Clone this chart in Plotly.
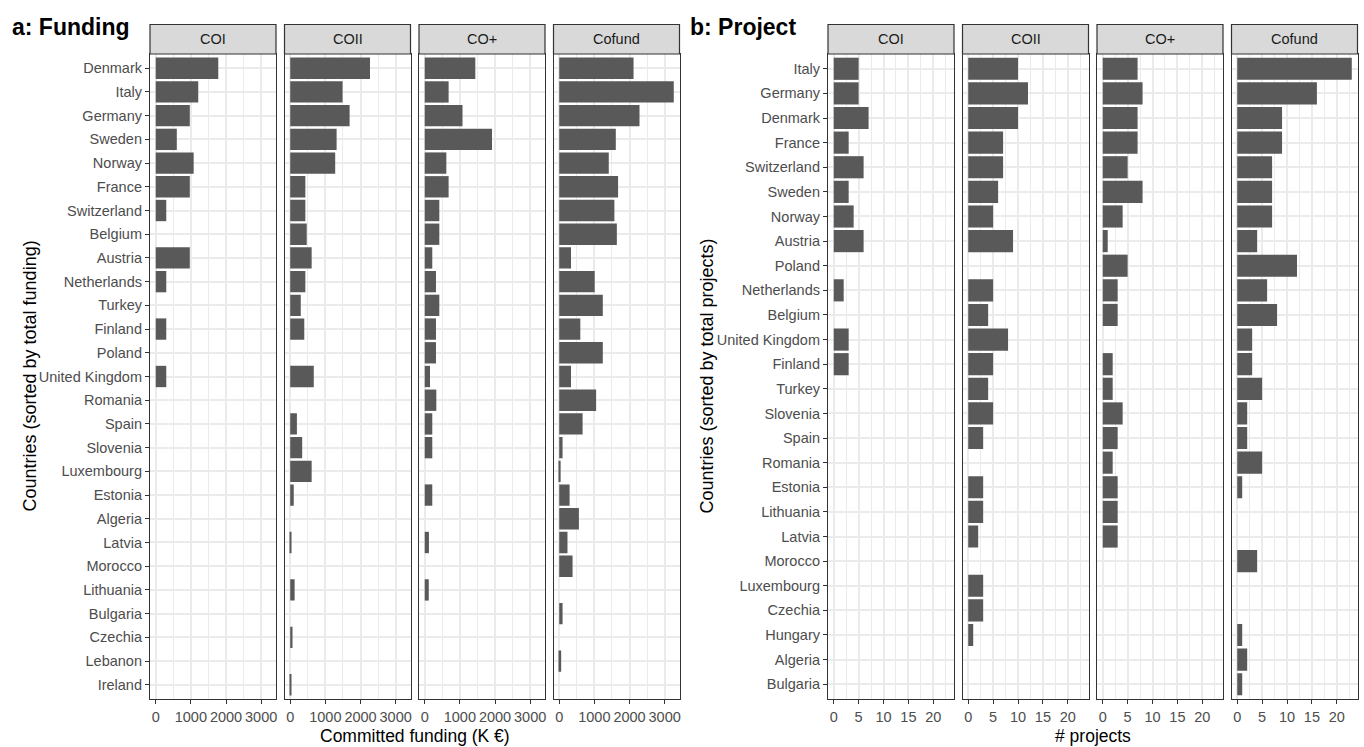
import plotly.graph_objects as go

# ---------------------------------------------------------------- data
schemes = ["COI", "COII", "CO+", "Cofund"]

# a: committed funding (K EUR), countries sorted by total funding
funding_countries = [
    "Denmark", "Italy", "Germany", "Sweden", "Norway", "France", "Switzerland",
    "Belgium", "Austria", "Netherlands", "Turkey", "Finland", "Poland",
    "United Kingdom", "Romania", "Spain", "Slovenia", "Luxembourg", "Estonia",
    "Algeria", "Latvia", "Morocco", "Lithuania", "Bulgaria", "Czechia",
    "Lebanon", "Ireland",
]
funding_coi = [
    1780, 1210, 970, 600, 1080, 970, 300, None, 970, 300, None, 300, None,
    300, None, None, None, None, None, None, None, None, None, None, None,
    None, None,
]
funding_coii = [
    2270, 1490, 1690, 1320, 1280, 430, 430, 470, 610, 430, 300, 400, None,
    670, None, 190, 340, 610, 100, None, 30, None, 125, None, 65, None, 30,
]
funding_coplus = [
    1440, 680, 1075, 1915, 615, 680, 415, 415, 215, 320, 415, 320, 320,
    150, 330, 215, 215, None, 215, None, 120, None, 115, None, None, None,
    None,
]
funding_cofund = [
    2115, 3260, 2285, 1610, 1410, 1675, 1570, 1640, 335, 1010, 1240, 600,
    1240, 335, 1050, 665, 95, 40, 295, 560, 235, 380, None, 95, None, 55,
    None,
]

# b: number of projects, countries sorted by total projects
project_countries = [
    "Italy", "Germany", "Denmark", "France", "Switzerland", "Sweden", "Norway",
    "Austria", "Poland", "Netherlands", "Belgium", "United Kingdom", "Finland",
    "Turkey", "Slovenia", "Spain", "Romania", "Estonia", "Lithuania", "Latvia",
    "Morocco", "Luxembourg", "Czechia", "Hungary", "Algeria", "Bulgaria",
]
project_coi = [
    5, 5, 7, 3, 6, 3, 4, 6, None, 2, None, 3, 3,
    None, None, None, None, None, None, None, None, None, None, None, None, None,
]
project_coii = [
    10, 12, 10, 7, 7, 6, 5, 9, None, 5, 4, 8, 5,
    4, 5, 3, None, 3, 3, 2, None, 3, 3, 1, None, None,
]
project_coplus = [
    7, 8, 7, 7, 5, 8, 4, 1, 5, 3, 3, None, 2,
    2, 4, 3, 2, 3, 3, 3, None, None, None, None, None, None,
]
project_cofund = [
    23, 16, 9, 9, 7, 7, 7, 4, 12, 6, 8, 3, 3,
    5, 2, 2, 5, 1, None, None, 4, None, None, 1, 2, 1,
]

# ---------------------------------------------------------------- style
W, H = 1364, 747
FONT = "Liberation Sans, Arial, sans-serif"
BAR = "#595959"
GRID = "#EBEBEB"
FRAME = "#333333"
AXIS_TXT = "#4D4D4D"
STRIP_FILL = "#D9D9D9"

PLOT_TOP, PLOT_BOTTOM = 54, 699
STRIP_TOP = 24.5
PANEL_W = 126


def fx(px):
    return px / W


def fy(px):
    return 1 - px / H


groups = [
    dict(
        title="a: Funding", title_x=10,
        countries=funding_countries,
        series=[funding_coi, funding_coii, funding_coplus, funding_cofund],
        starts=[150, 284.5, 419, 553.5],
        dtick=1000, minor=500,
        xtitle="Committed funding (K \u20ac)",
        ytitle="Countries (sorted by total funding)", ytitle_x=29,
    ),
    dict(
        title="b: Project", title_x=688,
        countries=project_countries,
        series=[project_coi, project_coii, project_coplus, project_cofund],
        starts=[828, 962.5, 1097, 1231.5],
        dtick=5, minor=2.5,
        xtitle="# projects",
        ytitle="Countries (sorted by total projects)", ytitle_x=706,
    ),
]

fig = go.Figure()
layout = {}
shapes = []
annotations = []

k = 0
for g in groups:
    countries = g["countries"]
    n = len(countries)
    vmax = max(v for s in g["series"] for v in s if v is not None)
    xrange = [-0.05 * vmax, 1.05 * vmax]
    for j, (scheme, values) in enumerate(zip(schemes, g["series"])):
        k += 1
        xa = "x" if k == 1 else f"x{k}"
        ya = "y" if k == 1 else f"y{k}"
        fig.add_trace(go.Bar(
            x=values, y=countries, orientation="h", width=0.9,
            marker=dict(color=BAR, line=dict(width=0)),
            xaxis=xa, yaxis=ya, showlegend=False, name=scheme,
        ))
        x0 = g["starts"][j]
        first = j == 0
        layout["xaxis" if k == 1 else f"xaxis{k}"] = dict(
            domain=[fx(x0), fx(x0 + PANEL_W)], anchor=ya,
            range=xrange, tick0=0, dtick=g["dtick"],
            showgrid=True, gridcolor=GRID, gridwidth=1.6,
            minor=dict(dtick=g["minor"], tick0=0, showgrid=True,
                       gridcolor=GRID, gridwidth=0.9, ticks=""),
            zeroline=False, showline=True, mirror=True,
            linecolor=FRAME, linewidth=1.2,
            ticks="outside", ticklen=4, tickcolor=FRAME, tickwidth=1,
            tickfont=dict(family=FONT, size=14.5, color=AXIS_TXT),
            fixedrange=True,
        )
        layout["yaxis" if k == 1 else f"yaxis{k}"] = dict(
            domain=[fy(PLOT_BOTTOM), fy(PLOT_TOP)], anchor=xa,
            type="category", categoryorder="array", categoryarray=countries,
            range=[n - 1 + 0.6, -0.6],
            showgrid=True, gridcolor=GRID, gridwidth=1.6,
            zeroline=False, showline=True, mirror=True,
            linecolor=FRAME, linewidth=1.2,
            ticks="outside" if first else "", ticklen=4, tickcolor=FRAME,
            tickwidth=1, showticklabels=first,
            tickfont=dict(family=FONT, size=14.5, color=AXIS_TXT),
            fixedrange=True,
        )
        # facet strip
        shapes.append(dict(
            type="rect", xref="paper", yref="paper",
            x0=fx(x0), x1=fx(x0 + PANEL_W), y0=fy(PLOT_TOP), y1=fy(STRIP_TOP),
            fillcolor=STRIP_FILL, line=dict(color=FRAME, width=1.2),
        ))
        annotations.append(dict(
            text=scheme, xref="paper", yref="paper",
            x=fx(x0 + PANEL_W / 2), y=fy((STRIP_TOP + PLOT_TOP) / 2),
            xanchor="center", yanchor="middle", showarrow=False,
            font=dict(family=FONT, size=14.5, color="#1A1A1A"),
        ))

    left = g["starts"][0]
    right = g["starts"][-1] + PANEL_W
    annotations += [
        dict(text=f"<b>{g['title']}</b>", xref="paper", yref="paper",
             x=fx(g["title_x"]), y=fy(27), xanchor="left", yanchor="middle",
             showarrow=False, font=dict(family=FONT, size=23, color="#000000")),
        dict(text=g["xtitle"], xref="paper", yref="paper",
             x=fx((left + right) / 2), y=fy(736), xanchor="center",
             yanchor="middle", showarrow=False,
             font=dict(family=FONT, size=17.5, color="#000000")),
        dict(text=g["ytitle"], xref="paper", yref="paper",
             x=fx(g["ytitle_x"]), y=fy((PLOT_TOP + PLOT_BOTTOM) / 2),
             xanchor="center", yanchor="middle", textangle=-90,
             showarrow=False,
             font=dict(family=FONT, size=18, color="#000000")),
    ]

fig.update_layout(
    width=W, height=H,
    margin=dict(l=0, r=0, t=0, b=0),
    paper_bgcolor="white", plot_bgcolor="white",
    bargap=0.1, shapes=shapes, annotations=annotations,
    font=dict(family=FONT),
    **layout,
)

fig.write_html("out.html")
